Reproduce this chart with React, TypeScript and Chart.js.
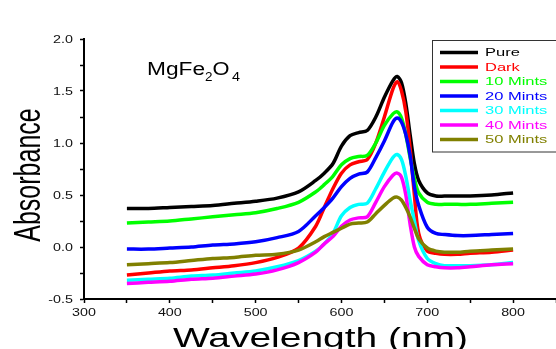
import { useEffect, useRef } from 'react';
import { Chart, registerables } from 'chart.js';

Chart.register(...registerables);

// ---- data ----
const wavelengths = [350, 375, 400, 425, 450, 475, 500, 525, 550, 570, 580, 590, 600, 610, 620, 630, 640, 650, 660, 665, 670, 675, 680, 685, 690, 700, 710, 720, 735, 750, 775, 800];

const pure = [0.37, 0.37, 0.38, 0.39, 0.40, 0.42, 0.44, 0.47, 0.53, 0.64, 0.71, 0.80, 0.97, 1.07, 1.10, 1.12, 1.25, 1.44, 1.60, 1.64, 1.58, 1.38, 1.08, 0.80, 0.64, 0.52, 0.49, 0.49, 0.49, 0.49, 0.50, 0.52];
const dark = [-0.27, -0.25, -0.23, -0.22, -0.20, -0.18, -0.15, -0.10, -0.01, 0.20, 0.38, 0.56, 0.71, 0.79, 0.82, 0.84, 1.00, 1.25, 1.52, 1.59, 1.50, 1.30, 0.95, 0.50, 0.13, -0.04, -0.06, -0.07, -0.07, -0.06, -0.05, -0.03];
const mints10 = [0.23, 0.24, 0.25, 0.27, 0.29, 0.31, 0.33, 0.37, 0.43, 0.53, 0.60, 0.68, 0.79, 0.85, 0.87, 0.88, 1.00, 1.17, 1.28, 1.30, 1.24, 1.08, 0.86, 0.66, 0.52, 0.43, 0.41, 0.41, 0.41, 0.41, 0.42, 0.43];
const mints20 = [-0.02, -0.02, -0.01, 0.00, 0.02, 0.03, 0.05, 0.09, 0.15, 0.30, 0.38, 0.47, 0.58, 0.66, 0.70, 0.72, 0.86, 1.02, 1.20, 1.24, 1.20, 1.08, 0.88, 0.58, 0.40, 0.19, 0.13, 0.12, 0.11, 0.11, 0.12, 0.13];
const mints30 = [-0.32, -0.31, -0.30, -0.28, -0.27, -0.25, -0.23, -0.19, -0.13, -0.04, 0.03, 0.13, 0.30, 0.38, 0.41, 0.42, 0.56, 0.72, 0.86, 0.89, 0.84, 0.68, 0.45, 0.25, 0.06, -0.11, -0.16, -0.18, -0.18, -0.18, -0.17, -0.15];
const mints40 = [-0.35, -0.34, -0.33, -0.31, -0.30, -0.28, -0.26, -0.22, -0.15, -0.05, 0.03, 0.10, 0.20, 0.26, 0.28, 0.29, 0.43, 0.58, 0.69, 0.71, 0.67, 0.50, 0.22, 0.00, -0.09, -0.17, -0.19, -0.20, -0.20, -0.19, -0.17, -0.16];
const mints50 = [-0.17, -0.16, -0.15, -0.13, -0.11, -0.10, -0.08, -0.07, -0.03, 0.05, 0.10, 0.14, 0.18, 0.22, 0.23, 0.24, 0.32, 0.40, 0.47, 0.48, 0.45, 0.38, 0.29, 0.18, 0.08, -0.01, -0.04, -0.05, -0.05, -0.04, -0.03, -0.02];

const seriesNames = ['Pure', 'Dark', '10 Mints', '20 Mints', '30 Mints', '40 Mints', '50 Mints'];
const seriesValues = [pure, dark, mints10, mints20, mints30, mints40, mints50];
const seriesColors = ['#000000', '#ff0000', '#00ff00', '#0000ff', '#00ffff', '#ff00ff', '#808000'];

const xMin = 300;
const xMax = 850;
const xStep = 50;
const xLabelStep = 100;
const xLabelMax = 800;
const yMin = -0.5;
const yMax = 2.0;
const yStep = 0.25;
const yLabelStep = 0.5;

const xTitle = 'Wavelength (nm)';
const yTitle = 'Absorbance';
const sampleMain = 'MgFe';
const sampleSub1 = '2';
const sampleO = 'O';
const sampleSub2 = '4';

const FONT = '"Liberation Sans", Arial, Helvetica, sans-serif';

function drawText(
  ctx: CanvasRenderingContext2D,
  text: string,
  x: number,
  y: number,
  size: number,
  sx: number,
  align: CanvasTextAlign,
  baseline: CanvasTextBaseline,
  color: string,
) {
  ctx.save();
  ctx.translate(x, y);
  ctx.scale(sx, 1);
  ctx.font = `${size}px ${FONT}`;
  ctx.textAlign = align;
  ctx.textBaseline = baseline;
  ctx.fillStyle = color;
  ctx.fillText(text, 0, 0);
  ctx.restore();
}

function fitText(
  ctx: CanvasRenderingContext2D,
  text: string,
  x: number,
  y: number,
  size: number,
  width: number,
  align: CanvasTextAlign,
  color: string,
) {
  ctx.save();
  ctx.font = `${size}px ${FONT}`;
  const w = ctx.measureText(text).width || 1;
  ctx.restore();
  drawText(ctx, text, x, y, size, width / w, align, 'alphabetic', color);
}

const decorPlugin = {
  id: 'decor',
  afterDraw(chart: any) {
    const ctx: CanvasRenderingContext2D = chart.ctx;
    const xs = chart.scales.x;
    const ys = chart.scales.y;

    // tick labels
    xs.ticks.forEach((t: any) => {
      const v = t.value;
      if (Math.abs(v / xLabelStep - Math.round(v / xLabelStep)) < 1e-6 && v <= xLabelMax) {
        drawText(ctx, String(v), xs.getPixelForValue(v), 316, 11, 1.3, 'center', 'alphabetic', '#111');
      }
    });
    ys.ticks.forEach((t: any) => {
      const v = t.value;
      if (Math.abs(v / yLabelStep - Math.round(v / yLabelStep)) < 1e-6) {
        drawText(ctx, v.toFixed(1), 73, ys.getPixelForValue(v) + 1, 11, 1.3, 'right', 'middle', '#111');
      }
    });

    // x title
    fitText(ctx, xTitle, 320.5, 347, 27, 295, 'center', '#000');

    // y title (rotated)
    ctx.save();
    ctx.translate(40, 175);
    ctx.rotate(-Math.PI / 2);
    ctx.scale(1, 1.45);
    ctx.font = `25px ${FONT}`;
    ctx.textAlign = 'center';
    ctx.textBaseline = 'alphabetic';
    ctx.fillStyle = '#000';
    ctx.fillText(yTitle, 0, 0);
    ctx.restore();

    // sample label MgFe2O4
    fitText(ctx, sampleMain, 147, 75, 18, 58, 'left', '#000');
    fitText(ctx, sampleSub1, 205, 81, 13, 7.5, 'left', '#000');
    fitText(ctx, sampleO, 212.5, 75, 18, 17, 'left', '#000');
    fitText(ctx, sampleSub2, 232, 81, 13, 8, 'left', '#000');

    // legend box
    ctx.save();
    ctx.fillStyle = '#ffffff';
    ctx.fillRect(432.5, 40.5, 130, 111.5);
    ctx.strokeStyle = '#333';
    ctx.lineWidth = 1;
    ctx.strokeRect(432.5, 40.5, 130, 111.5);
    seriesNames.forEach((name, i) => {
      const y = 52.5 + i * 14.5;
      ctx.beginPath();
      ctx.moveTo(440, y);
      ctx.lineTo(478, y);
      ctx.strokeStyle = seriesColors[i];
      ctx.lineWidth = 3.5;
      ctx.stroke();
      drawText(ctx, name, 485, y + 0.5, 11, 1.5, 'left', 'middle', seriesColors[i]);
    });
    ctx.restore();
  },
};

export default function App() {
  const canvasRef = useRef<HTMLCanvasElement | null>(null);

  useEffect(() => {
    const canvas = canvasRef.current;
    if (!canvas) return;

    const datasets = seriesNames.map((name, i) => ({
      label: name,
      data: wavelengths.map((w, j) => ({ x: w, y: seriesValues[i][j] })),
      borderColor: seriesColors[i],
      backgroundColor: seriesColors[i],
      borderWidth: 3.5,
      pointRadius: 0,
      fill: false,
      tension: 0.3,
      order: seriesNames.length - i,
    }));

    const chart = new Chart(canvas, {
      type: 'line',
      data: { datasets },
      options: {
        responsive: false,
        animation: false,
        maintainAspectRatio: false,
        layout: { padding: { top: 39, right: 0, left: 0, bottom: 0 } },
        plugins: {
          legend: { display: false },
          tooltip: { enabled: false },
          title: { display: false },
        },
        scales: {
          x: {
            type: 'linear',
            min: xMin,
            max: xMax,
            ticks: { stepSize: xStep, display: false, autoSkip: false },
            grid: {
              display: true,
              drawOnChartArea: false,
              drawTicks: true,
              tickLength: 4,
              tickColor: '#000',
              tickWidth: 1.5,
            },
            border: { display: true, color: '#000', width: 2 },
            afterFit: (s: any) => {
              s.height = 50;
            },
          },
          y: {
            type: 'linear',
            min: yMin,
            max: yMax,
            ticks: { stepSize: yStep, display: false, autoSkip: false },
            grid: {
              display: true,
              drawOnChartArea: false,
              drawTicks: true,
              tickLength: 4,
              tickColor: '#000',
              tickWidth: 1.5,
            },
            border: { display: true, color: '#000', width: 2 },
            afterFit: (s: any) => {
              s.width = 84;
            },
          },
        },
      },
      plugins: [decorPlugin],
    });

    return () => {
      chart.destroy();
    };
  }, []);

  return (
    <div style={{ position: 'absolute', left: 0, top: 0, width: 556, height: 349, background: '#fff' }}>
      <canvas ref={canvasRef} width={556} height={349} style={{ display: 'block', width: 556, height: 349 }} />
    </div>
  );
}
